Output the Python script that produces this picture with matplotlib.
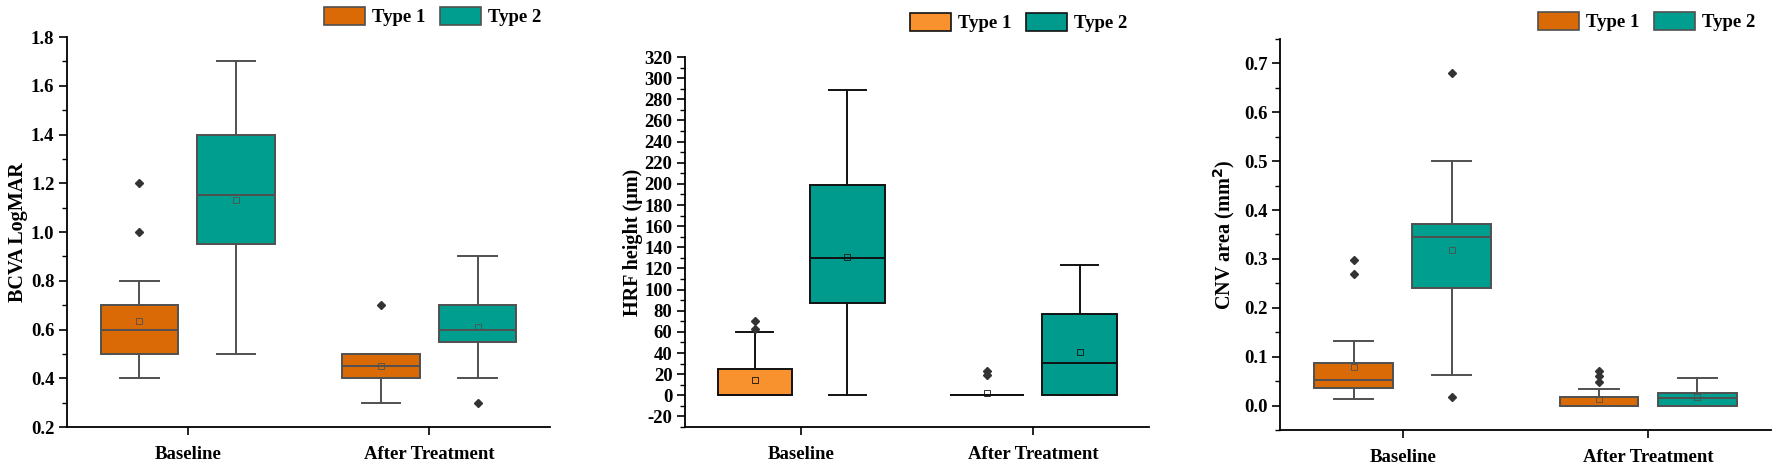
import numpy as np
import matplotlib
matplotlib.use("Agg")
import matplotlib.pyplot as plt
from matplotlib.patches import Patch
from matplotlib.ticker import MultipleLocator, FormatStrFormatter

plt.rcParams['font.family'] = ['Liberation Serif', 'DejaVu Serif']
plt.rcParams['font.weight'] = 'bold'
plt.rcParams['axes.labelweight'] = 'bold'
plt.rcParams['axes.unicode_minus'] = False

groups = ["Baseline", "After Treatment"]
types = ["Type 1", "Type 2"]

# box stats: (whislo, q1, med, q3, whishi, mean, fliers)
bcva_type1 = [(0.4, 0.5, 0.6, 0.7, 0.8, 0.635, [1.0, 1.2]),
              (0.3, 0.4, 0.45, 0.5, 0.5, 0.45, [0.7])]
bcva_type2 = [(0.5, 0.95, 1.15, 1.4, 1.7, 1.13, []),
              (0.4, 0.55, 0.6, 0.7, 0.9, 0.61, [0.3])]

hrf_type1 = [(0, 0, 0, 25, 60, 14.5, [63, 70]),
             (0, 0, 0, 0, 0, 2.3, [19.5, 23.3])]
hrf_type2 = [(0, 87, 130, 199, 289, 131, []),
             (0, 0, 31, 76.5, 123, 41, [])]

cnv_type1 = [(0.013, 0.035, 0.052, 0.088, 0.132, 0.078, [0.27, 0.298]),
             (0.0, 0.0, 0.0, 0.018, 0.034, 0.0135, [0.049, 0.06, 0.071])]
cnv_type2 = [(0.063, 0.24, 0.344, 0.372, 0.5, 0.318, [0.018, 0.68]),
             (0.0, 0.0, 0.015, 0.026, 0.056, 0.017, [])]


def to_stats(rows):
    out = []
    for lo, q1, med, q3, hi, mean, fl in rows:
        out.append(dict(whislo=lo, q1=q1, med=med, q3=q3, whishi=hi,
                        mean=mean, fliers=fl))
    return out


def draw_panel(ax, t1, t2, colors, edge, ylabel, ylim, major, minor, fmt):
    for rows, pos, col in [(t1, [0.8, 1.8], colors[0]), (t2, [1.2, 2.2], colors[1])]:
        ax.bxp(to_stats(rows), positions=pos, widths=0.32, capwidths=0.16,
               patch_artist=True, showmeans=True, manage_ticks=False,
               boxprops=dict(facecolor=col, edgecolor=edge, linewidth=1.4),
               medianprops=dict(color=edge, linewidth=1.4),
               whiskerprops=dict(color=edge, linewidth=1.4),
               capprops=dict(color=edge, linewidth=1.4),
               flierprops=dict(marker='D', markersize=4, markerfacecolor='#333333',
                               markeredgecolor='#333333'),
               meanprops=dict(marker='s', markersize=4, markerfacecolor='none',
                              markeredgecolor=edge, markeredgewidth=0.6))
    ax.set_xlim(0.5, 2.5)
    ax.set_ylim(*ylim)
    ax.set_xticks([1, 2])
    ax.set_xticklabels(groups)
    ax.yaxis.set_major_locator(MultipleLocator(major))
    ax.yaxis.set_minor_locator(MultipleLocator(minor))
    ax.yaxis.set_major_formatter(FormatStrFormatter(fmt))
    ax.spines['top'].set_visible(False)
    ax.spines['right'].set_visible(False)
    for s in ['left', 'bottom']:
        ax.spines[s].set_linewidth(1.3)
    ax.tick_params(axis='y', which='major', length=6, width=1.2, labelsize=13.5, pad=3)
    ax.tick_params(axis='y', which='minor', length=3.5, width=1.0)
    ax.tick_params(axis='x', which='major', length=6, width=1.2, labelsize=13.5, pad=8)
    ax.set_ylabel(ylabel, fontsize=14.5)


fig = plt.figure(figsize=(17.72, 4.68), dpi=100)
ax1 = fig.add_axes([0.0378, 0.0876, 0.2726, 0.8333])
ax2 = fig.add_axes([0.3866, 0.0876, 0.2619, 0.7906])
ax3 = fig.add_axes([0.7223, 0.0812, 0.2771, 0.8355])

c_a = ['#D96A05', '#009E8F']
c_b = ['#F7922F', '#009B8C']

draw_panel(ax1, bcva_type1, bcva_type2, c_a, '#505050', 'BCVA LogMAR',
           (0.2, 1.8), 0.2, 0.1, '%.1f')
draw_panel(ax2, hrf_type1, hrf_type2, c_b, '#111111', 'HRF height (\u03bcm)',
           (-30, 320), 20, 10, '%d')
draw_panel(ax3, cnv_type1, cnv_type2, c_a, '#505050', 'CNV area (mm$^\\mathbf{2}$)',
           (-0.05, 0.75), 0.1, 0.05, '%.1f')
ax1.yaxis.set_label_coords(-0.08, 0.5)
ax2.yaxis.set_label_coords(-0.09, 0.5)
ax3.yaxis.set_label_coords(-0.088, 0.5)

for x0, y0, cols, edge in [(324, 7, c_a, '#505050'), (910, 13, c_b, '#111111'),
                           (1538, 12, c_a, '#505050')]:
    handles = [Patch(facecolor=cols[i], edgecolor=edge, linewidth=1.2, label=types[i])
               for i in range(2)]
    fig.legend(handles=handles, loc='upper left', ncol=2, frameon=False,
               bbox_to_anchor=(x0 / 1772, 1 - y0 / 468), borderpad=0,
               borderaxespad=0, handlelength=2.2, handleheight=1.1,
               handletextpad=0.35, columnspacing=0.8,
               prop=dict(family='Liberation Serif', weight='bold', size=13.5))

fig.savefig("out.png", dpi=100)
